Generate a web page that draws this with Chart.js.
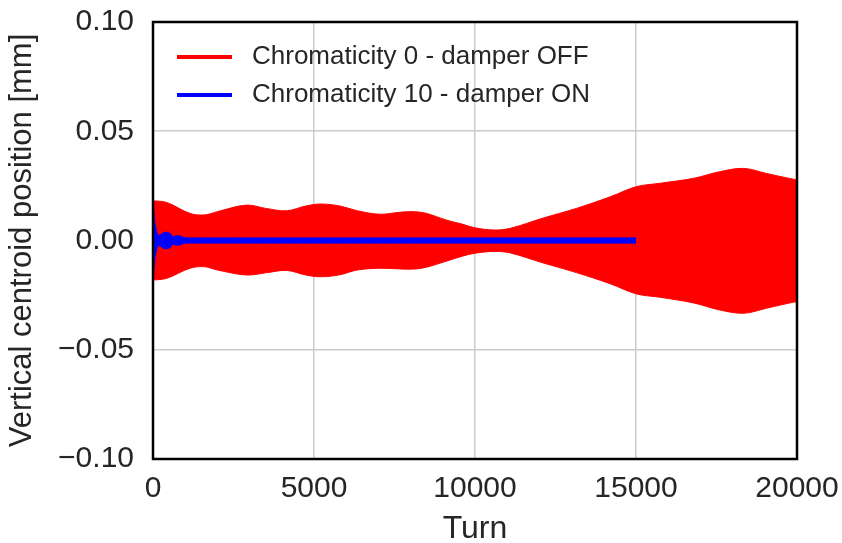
<html>
<head>
<meta charset="UTF-8" />
<script src="https://cdn.jsdelivr.net/npm/chart.js"></script>
<style>
  body { margin: 0; padding: 0; background: #ffffff; }
  #wrap { width: 842px; height: 543px; }
</style>
</head>
<body>
<div id="wrap"><canvas id="chart" width="842" height="543"></canvas></div>
<script>
// envelope of the undamped case (chromaticity 0, damper off)
var redTurns = [0, 100, 450, 1150, 1600, 2000, 2900, 3500, 4150, 4750, 5200, 5800, 6350, 7050, 7650, 8100, 8500, 9100, 9600, 10000, 10600, 11100, 12100, 13150, 14200, 15000, 15750, 16800, 17600, 18350, 19050, 19900, 20000];
var redUpper = [0.018, 0.0181, 0.0173, 0.0124, 0.0117, 0.0132, 0.0162, 0.0147, 0.0136, 0.0158, 0.0167, 0.0158, 0.0136, 0.012, 0.0129, 0.0132, 0.0124, 0.0094, 0.0075, 0.0058, 0.0048, 0.0056, 0.0102, 0.0147, 0.02, 0.0246, 0.0262, 0.0285, 0.0315, 0.033, 0.0307, 0.028, 0.028];
var redLower = [-0.018, -0.018, -0.0172, -0.0127, -0.012, -0.0135, -0.0158, -0.0148, -0.0137, -0.0158, -0.0166, -0.0157, -0.0135, -0.0127, -0.013, -0.0131, -0.0122, -0.0095, -0.0072, -0.0058, -0.005, -0.0057, -0.0102, -0.0147, -0.0198, -0.0244, -0.026, -0.0286, -0.0318, -0.0333, -0.031, -0.0282, -0.0282];

// envelope of the damped case (chromaticity 10, damper on)
var blueTurns = [0, 60, 150, 250, 330, 430, 530, 600, 650, 750, 850, 950, 1100, 15000];
var blueUpper = [0.018, 0.008, 0.0025, 0.0028, 0.0036, 0.0038, 0.0032, 0.0018, 0.0019, 0.0022, 0.002, 0.0014, 0.0012, 0.0012];
var blueLower = [-0.018, -0.008, -0.0025, -0.0028, -0.0036, -0.0038, -0.0032, -0.0018, -0.0019, -0.0022, -0.002, -0.0014, -0.0012, -0.0012];

var legendLabels = ["Chromaticity 0 - damper OFF", "Chromaticity 10 - damper ON"];
var legendColors = ["#ff0000", "#0000ff"];

var xTicks = [0, 5000, 10000, 15000, 20000];
var yTicks = [-0.1, -0.05, 0, 0.05, 0.1];

function pts(xs, ys) {
    return xs.map(function (x, i) { return { x: x, y: ys[i] }; });
}

var textColor = "#262626";
var fontFam = "'Liberation Sans', Arial, sans-serif";

// legend drawn inside plot, top left + black frame
var insideLegend = {
    id: "insideLegend",
    afterDatasetsDraw: function (chart) {
        var ctx = chart.ctx;
        var a = chart.chartArea;
        ctx.save();
        ctx.font = "26px " + fontFam;
        ctx.textBaseline = "middle";
        for (var i = 0; i < legendLabels.length; i++) {
            var y = a.top + 35 + i * 38;
            ctx.strokeStyle = legendColors[i];
            ctx.lineWidth = 4;
            ctx.beginPath();
            ctx.moveTo(a.left + 24, y);
            ctx.lineTo(a.left + 79, y);
            ctx.stroke();
            ctx.fillStyle = textColor;
            ctx.fillText(legendLabels[i], a.left + 99, y);
        }
        ctx.restore();
    },
    afterDraw: function (chart) {
        var ctx = chart.ctx;
        var a = chart.chartArea;
        ctx.save();
        ctx.strokeStyle = "#000000";
        ctx.lineWidth = 2.5;
        ctx.strokeRect(a.left, a.top, a.right - a.left, a.bottom - a.top);
        ctx.restore();
    }
};

var bandStyle = { pointRadius: 0, borderWidth: 1, tension: 0.35 };

new Chart(document.getElementById("chart"), {
    type: "line",
    data: {
        datasets: [
            // first datasets are drawn on top
            Object.assign({ label: "blue upper", data: pts(blueTurns, blueUpper), borderColor: "#0000ff", backgroundColor: "#0000ff", fill: "+1" }, bandStyle, { tension: 0.2 }),
            Object.assign({ label: "blue lower", data: pts(blueTurns, blueLower), borderColor: "#0000ff", backgroundColor: "#0000ff", fill: false }, bandStyle, { tension: 0.2 }),
            Object.assign({ label: "red upper", data: pts(redTurns, redUpper), borderColor: "#ff0000", backgroundColor: "#ff0000", fill: "+1" }, bandStyle),
            Object.assign({ label: "red lower", data: pts(redTurns, redLower), borderColor: "#ff0000", backgroundColor: "#ff0000", fill: false }, bandStyle)
        ]
    },
    options: {
        responsive: false,
        animation: false,
        layout: { padding: { top: 22, right: 45, left: 0, bottom: 0 } },
        plugins: {
            legend: { display: false },
            tooltip: { enabled: false }
        },
        scales: {
            x: {
                type: "linear",
                min: 0,
                max: 20000,
                afterBuildTicks: function (s) { s.ticks = xTicks.map(function (v) { return { value: v }; }); },
                afterFit: function (s) { s.height = 84; s.paddingLeft = 0; s.paddingRight = 0; },
                ticks: {
                    color: textColor,
                    padding: 12,
                    maxRotation: 0,
                    font: { family: fontFam, size: 30 },
                    callback: function (v) { return String(v); }
                },
                grid: { color: "#cccccc", lineWidth: 1.5, drawTicks: false },
                border: { display: false },
                title: {
                    display: true,
                    text: "Turn",
                    color: textColor,
                    padding: { top: 0, bottom: 0 },
                    font: { family: fontFam, size: 32, lineHeight: 0.85 }
                }
            },
            y: {
                min: -0.1,
                max: 0.1,
                afterBuildTicks: function (s) { s.ticks = yTicks.map(function (v) { return { value: v }; }); },
                afterFit: function (s) { s.width = 153; s.paddingTop = 0; s.paddingBottom = 0; },
                ticks: {
                    color: textColor,
                    padding: 19,
                    font: { family: fontFam, size: 30 },
                    callback: function (v) {
                        if (Math.abs(v) < 1e-9) return "0.00";
                        return (v < 0 ? "\u2212" : "") + Math.abs(v).toFixed(2);
                    }
                },
                grid: { color: "#cccccc", lineWidth: 1.5, drawTicks: false },
                border: { display: false },
                title: {
                    display: true,
                    text: "Vertical centroid position [mm]",
                    color: textColor,
                    padding: { top: 4, bottom: 0 },
                    font: { family: fontFam, size: 31 }
                }
            }
        }
    },
    plugins: [insideLegend]
});
</script>
</body>
</html>
